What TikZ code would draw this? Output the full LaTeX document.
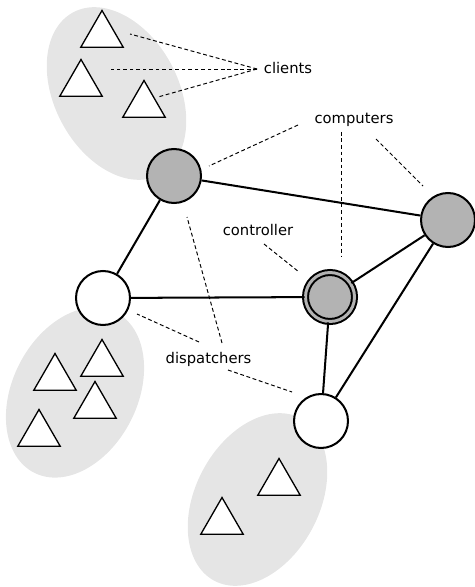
\documentclass[tikz,border=0pt]{standalone}
\usepackage{fontspec}
\setmainfont{DejaVu Sans}
\usepackage{tikz}
\usetikzlibrary{shapes.geometric}
\definecolor{cGroup}{RGB}{229,229,229}
\definecolor{cNode}{RGB}{179,179,179}
\tikzset{
	group/.style     ={fill=cGroup},
	computer/.style  ={circle, draw=black, line width=1.15pt, fill=cNode, minimum size=1.08cm, inner sep=0pt},
	dispatcher/.style={computer, fill=white},
	controller/.style={computer, double=cNode, double distance=1.7pt, minimum size=0.98cm},
	client/.style    ={regular polygon, regular polygon sides=3, draw=black, fill=white, line width=0.75pt, minimum size=0.98cm, inner sep=0pt},
	link/.style      ={line width=1.15pt},
	leader/.style    ={line width=0.55pt, dash pattern=on 2.2pt off 1.5pt},
	tag/.style       ={font=\fontsize{8.4}{10}\selectfont, inner sep=0pt},
}

\begin{document}
\begin{tikzpicture}[x=0.02cm, y=-0.02cm]
	\useasboundingbox (0,0) rectangle (475,587);
	% groups of clients
	\fill[group, rotate around={28:(116.5,93.5)}] (116.5,93.5) ellipse (62 and 92);
	\fill[group, rotate around={-27:(75,392.5)}] (75,392.5) ellipse (62.5 and 90);
	\fill[group, rotate around={-28:(257.5,499.5)}] (257.5,499.5) ellipse (62 and 92);
	% clients
	\foreach \n/\p in {t1/{102,35}, t2/{81,84}, t3/{144,105}, l1/{55,378}, l2/{102,364}, l3/{95,406}, l4/{39,434}, b1/{279,483}, b2/{222,522}}
		\node[client] (\n) at (\p) {};
	% computers
	\node[computer] (c1) at (174,176) {};
	\node[computer] (c2) at (448,220) {};
	\node[controller] (ctrl) at (330,297) {};
	\node[dispatcher] (d1) at (103,298) {};
	\node[dispatcher] (d2) at (321,421) {};
	\foreach \a/\b in {c1/c2, c1/d1, d1/ctrl, ctrl/c2, ctrl/d2, c2/d2}
		\draw[link] (\a) -- (\b);
	% labels
	\node[tag] (clients) at (288,68) {clients};
	\node[tag] (computers) at (354,120) {computers};
	\node[tag] (ctrllbl) at (258,229.5) {controller};
	\node[tag] (dispatchers) at (208.5,359) {dispatchers};
	% leader lines
	\coordinate (cl0) at (257,69);
	\coordinate (cl1) at (130,34);
	\coordinate (cl2) at (111,69);
	\coordinate (cl3) at (158,97);
	\coordinate (cp1) at (298,125);  \coordinate (cp1e) at (209,166);
	\coordinate (cp2) at (341,132);  \coordinate (cp2e) at (341,257);
	\coordinate (cp3) at (376,139);  \coordinate (cp3e) at (423,186);
	\coordinate (ct1) at (264,244);  \coordinate (ct1e) at (299,272);
	\coordinate (dp1) at (199,342);  \coordinate (dp1e) at (137,314);
	\coordinate (dp2) at (222,343);  \coordinate (dp2e) at (187,217);
	\coordinate (dp3) at (228,370);  \coordinate (dp3e) at (292,392);
	\foreach \s/\e in {cl0/cl1, cl0/cl2, cl0/cl3, cp1/cp1e, cp2/cp2e, cp3/cp3e, ct1/ct1e, dp1/dp1e, dp2/dp2e, dp3/dp3e}
		\draw[leader] (\s) -- (\e);
\end{tikzpicture}
\end{document}
